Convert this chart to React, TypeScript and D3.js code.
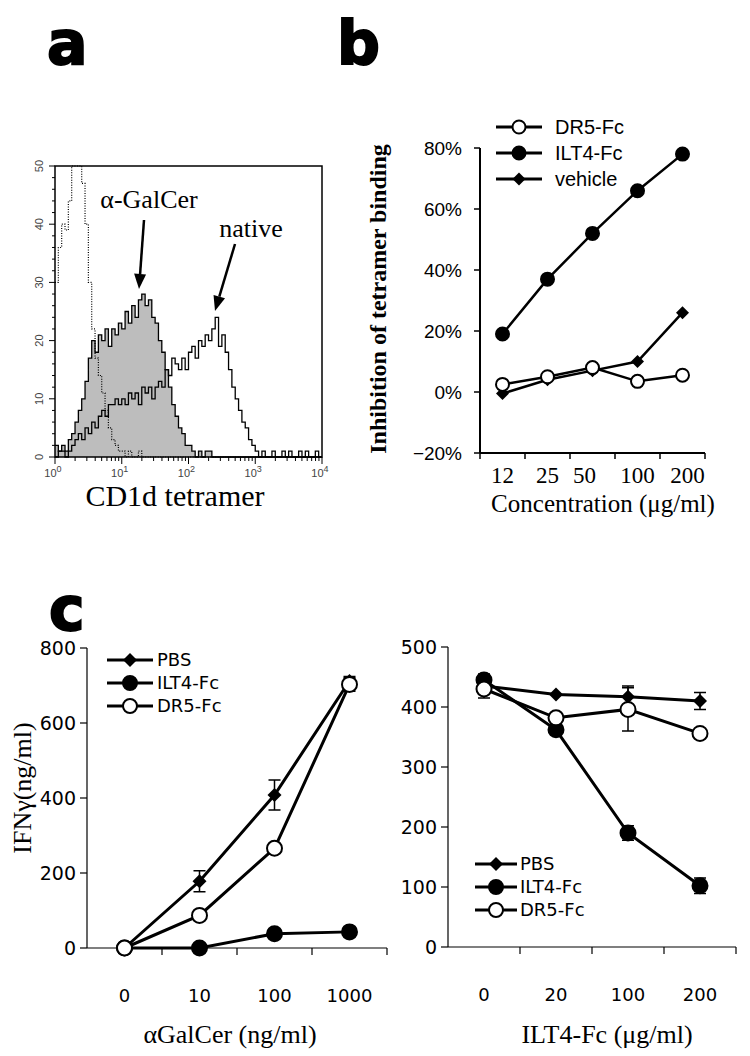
import React, { useEffect, useRef } from 'react';
import * as d3 from 'd3';

// ---- panel a: flow histogram, counts per 0.05-decade bin from 10^0 to 10^4
const binWidth = 0.05;
const controlCounts = [
  30, 36, 40, 39, 44, 55, 52, 55, 47, 40,
  30, 22, 17, 14, 11, 8, 5, 3, 2, 1,
  1, 0, 1, 0, 0, 1, 0, 0, 0, 0,
  0, 0, 0, 0, 0, 0, 0, 0, 0, 0,
  0, 0, 0, 0, 0, 0, 0, 0, 0, 0,
  0, 0, 0, 0, 0, 0, 0, 0, 0, 0,
  0, 0, 0, 0, 0, 0, 0, 0, 0, 0,
  0, 0, 0, 0, 0, 0, 0, 0, 0, 0,
];
const galcerCounts = [
  2, 1, 2, 1, 3, 4, 6, 8, 10, 13,
  17, 20, 18, 21, 20, 22, 19, 22, 21, 23,
  22, 25, 23, 26, 24, 27, 28, 26, 27, 24,
  23, 20, 18, 15, 12, 9, 7, 5, 4, 2,
  2, 1, 0, 1, 0, 1, 1, 0, 0, 0,
  0, 0, 0, 0, 0, 0, 0, 0, 0, 0,
  0, 0, 0, 0, 0, 0, 0, 0, 0, 0,
  0, 0, 0, 0, 0, 0, 0, 0, 0, 0,
];
const nativeCounts = [
  0, 1, 1, 0, 1, 2, 3, 4, 3, 5,
  4, 6, 5, 7, 8, 7, 9, 9, 10, 9,
  10, 9, 11, 10, 11, 9, 12, 11, 12, 10,
  12, 13, 12, 15, 14, 17, 16, 15, 17, 15,
  18, 19, 17, 20, 19, 21, 20, 22, 24, 19,
  21, 18, 15, 12, 10, 8, 6, 5, 3, 2,
  1, 0, 1, 0, 0, 1, 0, 0, 1, 0,
  1, 0, 0, 1, 0, 1, 0, 0, 1, 0,
];
const histYTicks = [0, 10, 20, 30, 40, 50];
const histXDecades = [0, 1, 2, 3, 4];

// ---- panel b: inhibition of tetramer binding
const concLabels = ['12', '25', '50', '100', '200'];
const dr5Inhibition = [0.025, 0.05, 0.08, 0.035, 0.055];
const ilt4Inhibition = [0.19, 0.37, 0.52, 0.66, 0.78];
const vehicleInhibition = [-0.005, 0.04, 0.07, 0.1, 0.26];
const inhibitionTicks = [-0.2, 0, 0.2, 0.4, 0.6, 0.8];

// ---- panel c left: IFN-gamma vs aGalCer
const galcerDoses = ['0', '10', '100', '1000'];
const pbsIfn = [0, 178, 408, 712];
const pbsIfnErr = [0, 28, 40, 12];
const ilt4Ifn = [0, 0, 38, 43];
const ilt4IfnErr = [0, 0, 0, 0];
const dr5Ifn = [0, 87, 266, 703];
const dr5IfnErr = [0, 0, 0, 18];
const ifnTicksLeft = [0, 200, 400, 600, 800];

// ---- panel c right: IFN-gamma vs ILT4-Fc
const ilt4Doses = ['0', '20', '100', '200'];
const pbsIfn2 = [435, 421, 417, 410];
const pbsIfn2Err = [12, 0, 18, 14];
const ilt4Ifn2 = [445, 362, 190, 102];
const ilt4Ifn2Err = [10, 8, 12, 13];
const dr5Ifn2 = [430, 382, 396, 356];
const dr5Ifn2Err = [15, 0, 36, 0];
const ifnTicksRight = [0, 100, 200, 300, 400, 500];

const SERIF = '"Liberation Serif", "Times New Roman", serif';
const ARIAL = '"Liberation Sans", Arial, sans-serif';
const VERDANA = '"DejaVu Sans", Verdana, sans-serif';

type Sel = d3.Selection<any, any, any, any>;

function marker(g: Sel, kind: string, x: number, y: number, r: number) {
  if (kind === 'diamond') {
    g.append('path')
      .attr('d', d3.symbol().type(d3.symbolSquare).size(2 * r * r)()!)
      .attr('transform', `translate(${x},${y}) rotate(45)`)
      .attr('fill', '#000');
  } else {
    g.append('circle')
      .attr('cx', x).attr('cy', y).attr('r', r)
      .attr('fill', kind === 'open' ? '#fff' : '#000')
      .attr('stroke', '#000').attr('stroke-width', 2);
  }
}

function series(g: Sel, xs: number[], vals: number[], yScale: any, kind: string, r: number, lw: number, errs?: number[]) {
  const pts = vals.map((v, i) => [xs[i], yScale(v)] as [number, number]);
  g.append('path')
    .attr('d', d3.line()(pts)!)
    .attr('fill', 'none').attr('stroke', '#000').attr('stroke-width', lw);
  if (errs) {
    vals.forEach((v, i) => {
      if (!errs[i]) return;
      const y0 = yScale(v - errs[i]);
      const y1 = yScale(v + errs[i]);
      const x = xs[i];
      g.append('path')
        .attr('d', `M${x},${y0}V${y1}M${x - 6},${y0}H${x + 6}M${x - 6},${y1}H${x + 6}`)
        .attr('fill', 'none').attr('stroke', '#000').attr('stroke-width', 1.5);
    });
  }
  pts.forEach((p) => marker(g, kind, p[0], p[1], r));
}

function legend(g: Sel, items: [string, string][], x0: number, x1: number, y0: number, dy: number, r: number, font: string, size: number, tx: number) {
  items.forEach(([label, kind], i) => {
    const y = y0 + i * dy;
    g.append('line').attr('x1', x0).attr('x2', x1).attr('y1', y).attr('y2', y)
      .attr('stroke', '#000').attr('stroke-width', 3);
    marker(g, kind, (x0 + x1) / 2, y, r);
    g.append('text').attr('x', tx).attr('y', y).attr('dy', '0.35em')
      .attr('font-family', font).attr('font-size', size).text(label);
  });
}

function panelLabel(svg: Sel, t: string, x: number, y: number) {
  svg.append('text').attr('x', x).attr('y', y)
    .attr('font-family', '"DejaVu Sans", Arial, sans-serif').attr('font-weight', 'bold')
    .attr('font-size', 60).attr('stroke', '#000').attr('stroke-width', 2).text(t);
}

function drawPanelA(svg: Sel) {
  const x = d3.scaleLog().domain([1, 1e4]).range([55, 322]);
  const y = d3.scaleLinear().domain([0, 50]).range([457, 166]).clamp(true);
  const g = svg.append('g');
  const pts = (counts: number[]) => {
    const p = counts.map((c, i) => [Math.pow(10, i * binWidth), c] as [number, number]);
    p.push([1e4, counts[counts.length - 1]]);
    return p;
  };
  const line = d3.line<[number, number]>().x((d) => x(d[0])).y((d) => y(d[1])).curve(d3.curveStepAfter);
  const area = d3.area<[number, number]>().x((d) => x(d[0])).y0(y(0)).y1((d) => y(d[1])).curve(d3.curveStepAfter);

  g.append('path').attr('d', area(pts(galcerCounts))!).attr('fill', '#bdbdbd');
  g.append('path').attr('d', line(pts(nativeCounts))!).attr('fill', 'none').attr('stroke', '#000').attr('stroke-width', 1.3);
  g.append('path').attr('d', line(pts(controlCounts))!).attr('fill', 'none').attr('stroke', '#000')
    .attr('stroke-width', 1.2).attr('stroke-dasharray', '1,1.5');
  g.append('path').attr('d', line(pts(galcerCounts))!).attr('fill', 'none').attr('stroke', '#000').attr('stroke-width', 1.3);

  g.append('rect').attr('x', 55).attr('y', 166).attr('width', 267).attr('height', 291)
    .attr('fill', 'none').attr('stroke', '#000').attr('stroke-width', 1.5);

  // y ticks
  d3.range(0, 51, 2).forEach((v) => {
    const major = v % 10 === 0;
    g.append('line').attr('x1', 55).attr('x2', 55 - (major ? 6 : 3)).attr('y1', y(v)).attr('y2', y(v))
      .attr('stroke', '#000').attr('stroke-width', 1);
  });
  histYTicks.forEach((v) => {
    g.append('text').attr('transform', `translate(43,${y(v)}) rotate(-90)`)
      .attr('text-anchor', 'middle').attr('font-family', ARIAL).attr('font-size', 11)
      .attr('fill', '#444').text(String(v));
  });
  // x ticks
  histXDecades.forEach((dcd) => {
    const base = Math.pow(10, dcd);
    g.append('line').attr('x1', x(base)).attr('x2', x(base)).attr('y1', 457).attr('y2', 464)
      .attr('stroke', '#000');
    if (dcd < 4) {
      d3.range(2, 10).forEach((m) => {
        g.append('line').attr('x1', x(base * m)).attr('x2', x(base * m)).attr('y1', 457).attr('y2', 461)
          .attr('stroke', '#000');
      });
    }
    const t = g.append('text').attr('x', x(base) - 2).attr('y', 477).attr('text-anchor', 'middle')
      .attr('font-family', ARIAL).attr('font-size', 11).attr('fill', '#444');
    t.append('tspan').text('10');
    t.append('tspan').attr('dy', -5).attr('font-size', 9).text(String(dcd));
  });

  g.append('text').attr('x', 175).attr('y', 506).attr('text-anchor', 'middle')
    .attr('font-family', SERIF).attr('font-size', 30).text('CD1d tetramer');
  g.append('text').attr('x', 149).attr('y', 208).attr('text-anchor', 'middle')
    .attr('font-family', SERIF).attr('font-size', 26).text('α-GalCer');
  g.append('text').attr('x', 251).attr('y', 237).attr('text-anchor', 'middle')
    .attr('font-family', SERIF).attr('font-size', 26).text('native');

  const arrow = (x0: number, y0: number, x1: number, y1: number) => {
    const a = Math.atan2(y1 - y0, x1 - x0);
    const L = 15, W = 6;
    const bx = x1 - L * Math.cos(a), by = y1 - L * Math.sin(a);
    g.append('line').attr('x1', x0).attr('y1', y0).attr('x2', bx).attr('y2', by)
      .attr('stroke', '#000').attr('stroke-width', 2.5);
    g.append('path').attr('d', `M${x1},${y1}L${bx + W * Math.sin(a)},${by - W * Math.cos(a)}L${bx - W * Math.sin(a)},${by + W * Math.cos(a)}Z`)
      .attr('fill', '#000');
  };
  arrow(144, 220, 139, 289);
  arrow(235, 244, 215, 311);
}

function drawPanelB(svg: Sel) {
  const x = d3.scaleBand().domain(concLabels).range([480, 705]);
  const y = d3.scaleLinear().domain([-0.2, 0.8]).range([453, 148]);
  const g = svg.append('g');
  g.append('line').attr('x1', 480).attr('x2', 480).attr('y1', y(0.8)).attr('y2', y(-0.2)).attr('stroke', '#000').attr('stroke-width', 2);
  g.append('line').attr('x1', 480).attr('x2', 705).attr('y1', y(-0.2)).attr('y2', y(-0.2)).attr('stroke', '#000').attr('stroke-width', 2);
  inhibitionTicks.forEach((v) => {
    g.append('line').attr('x1', 474).attr('x2', 480).attr('y1', y(v)).attr('y2', y(v)).attr('stroke', '#000').attr('stroke-width', 1.5);
    g.append('text').attr('x', 462).attr('y', y(v)).attr('dy', '0.35em').attr('text-anchor', 'end')
      .attr('font-family', ARIAL).attr('font-size', 19).text(d3.format('.0%')(v));
  });
  concLabels.forEach((c, i) => {
    const xe = x(c)! + x.bandwidth();
    g.append('line').attr('x1', xe).attr('x2', xe).attr('y1', 453).attr('y2', 459).attr('stroke', '#000').attr('stroke-width', 1.5);
    g.append('text').attr('x', x(c)! + x.bandwidth() / 2 + (i === 2 ? -8 : 0) + (i === 4 ? 5 : 0)).attr('y', 483).attr('text-anchor', 'middle')
      .attr('font-family', SERIF).attr('font-size', 23).text(c);
  });
  g.append('line').attr('x1', 480).attr('x2', 480).attr('y1', 453).attr('y2', 459).attr('stroke', '#000').attr('stroke-width', 1.5);
  g.append('text').attr('x', 603).attr('y', 512).attr('text-anchor', 'middle')
    .attr('font-family', SERIF).attr('font-size', 25).text('Concentration (μg/ml)');
  g.append('text').attr('transform', 'translate(386,299) rotate(-90)').attr('text-anchor', 'middle')
    .attr('font-family', SERIF).attr('font-weight', 'bold').attr('font-size', 24).text('Inhibition of tetramer binding');

  const xs = concLabels.map((c) => x(c)! + x.bandwidth() / 2);
  series(g, xs, vehicleInhibition, y, 'diamond', 6.5, 2.5);
  series(g, xs, ilt4Inhibition, y, 'dot', 6.5, 2.5);
  series(g, xs, dr5Inhibition, y, 'open', 6.5, 2.5);
  legend(g, [['DR5-Fc', 'open'], ['ILT4-Fc', 'dot'], ['vehicle', 'diamond']], 496, 542, 127, 26, 6.5, ARIAL, 20, 555);
}

function drawDose(svg: Sel, o: {
  doses: string[]; x0: number; x1: number; yMax: number; yTop: number; yBot: number; ticks: number[];
  pbs: number[]; pbsErr: number[]; ilt4: number[]; ilt4Err: number[]; dr5: number[]; dr5Err: number[];
  legX0: number; legX1: number; legY: number; legTx: number; xTitle: string; xTitleX: number;
}) {
  const x = d3.scaleBand().domain(o.doses).range([o.x0, o.x1]);
  const y = d3.scaleLinear().domain([0, o.yMax]).range([o.yBot, o.yTop]);
  const g = svg.append('g');
  g.append('line').attr('x1', o.x0).attr('x2', o.x0).attr('y1', o.yTop).attr('y2', o.yBot).attr('stroke', '#000').attr('stroke-width', 1.2);
  g.append('line').attr('x1', o.x0).attr('x2', o.x1).attr('y1', o.yBot).attr('y2', o.yBot).attr('stroke', '#000').attr('stroke-width', 1.2);
  o.ticks.forEach((v) => {
    g.append('line').attr('x1', o.x0 - 7).attr('x2', o.x0).attr('y1', y(v)).attr('y2', y(v)).attr('stroke', '#000').attr('stroke-width', 1.2);
    g.append('text').attr('x', o.x0 - 11).attr('y', y(v)).attr('dy', '0.36em').attr('text-anchor', 'end')
      .attr('font-family', VERDANA).attr('font-size', 19).text(String(v));
  });
  o.doses.forEach((d) => {
    const xe = x(d)! + x.bandwidth();
    g.append('line').attr('x1', xe).attr('x2', xe).attr('y1', o.yBot).attr('y2', o.yBot + 7).attr('stroke', '#000').attr('stroke-width', 1.2);
    g.append('text').attr('x', x(d)! + x.bandwidth() / 2).attr('y', o.yBot + 54).attr('text-anchor', 'middle')
      .attr('font-family', VERDANA).attr('font-size', 18).text(d);
  });
  g.append('text').attr('x', o.xTitleX).attr('y', 1043).attr('text-anchor', 'middle')
    .attr('font-family', SERIF).attr('font-size', 26).text(o.xTitle);

  const xs = o.doses.map((d) => x(d)! + x.bandwidth() / 2);
  series(g, xs, o.pbs, y, 'diamond', 7, 3, o.pbsErr);
  series(g, xs, o.ilt4, y, 'dot', 7.5, 3, o.ilt4Err);
  series(g, xs, o.dr5, y, 'open', 7.5, 3, o.dr5Err);
  legend(g, [['PBS', 'diamond'], ['ILT4-Fc', 'dot'], ['DR5-Fc', 'open']], o.legX0, o.legX1, o.legY, 23, 7, VERDANA, 18, o.legTx);
}

export default function App() {
  const ref = useRef<SVGSVGElement>(null);
  useEffect(() => {
    const svg = d3.select(ref.current);
    svg.selectAll('*').remove();
    svg.append('rect').attr('width', 750).attr('height', 1056).attr('fill', '#fff');
    panelLabel(svg, 'a', 47, 64);
    panelLabel(svg, 'b', 337, 64);
    panelLabel(svg, 'c', 49, 630);
    drawPanelA(svg);
    drawPanelB(svg);
    drawDose(svg, {
      doses: galcerDoses, x0: 87, x1: 387, yMax: 800, yTop: 648, yBot: 948, ticks: ifnTicksLeft,
      pbs: pbsIfn, pbsErr: pbsIfnErr, ilt4: ilt4Ifn, ilt4Err: ilt4IfnErr, dr5: dr5Ifn, dr5Err: dr5IfnErr,
      legX0: 107, legX1: 153, legY: 660, legTx: 157, xTitle: 'αGalCer (ng/ml)', xTitleX: 230,
    });
    drawDose(svg, {
      doses: ilt4Doses, x0: 448, x1: 736, yMax: 500, yTop: 647, yBot: 947, ticks: ifnTicksRight,
      pbs: pbsIfn2, pbsErr: pbsIfn2Err, ilt4: ilt4Ifn2, ilt4Err: ilt4Ifn2Err, dr5: dr5Ifn2, dr5Err: dr5Ifn2Err,
      legX0: 475, legX1: 517, legY: 864, legTx: 520, xTitle: 'ILT4-Fc (μg/ml)', xTitleX: 607,
    });
    svg.append('text').attr('transform', 'translate(31,788) rotate(-90)').attr('text-anchor', 'middle')
      .attr('font-family', SERIF).attr('font-size', 26).text('IFNγ(ng/ml)');
  }, []);
  return (
    <svg ref={ref} width={750} height={1056} style={{ position: 'absolute', left: 0, top: 0 }} />
  );
}
